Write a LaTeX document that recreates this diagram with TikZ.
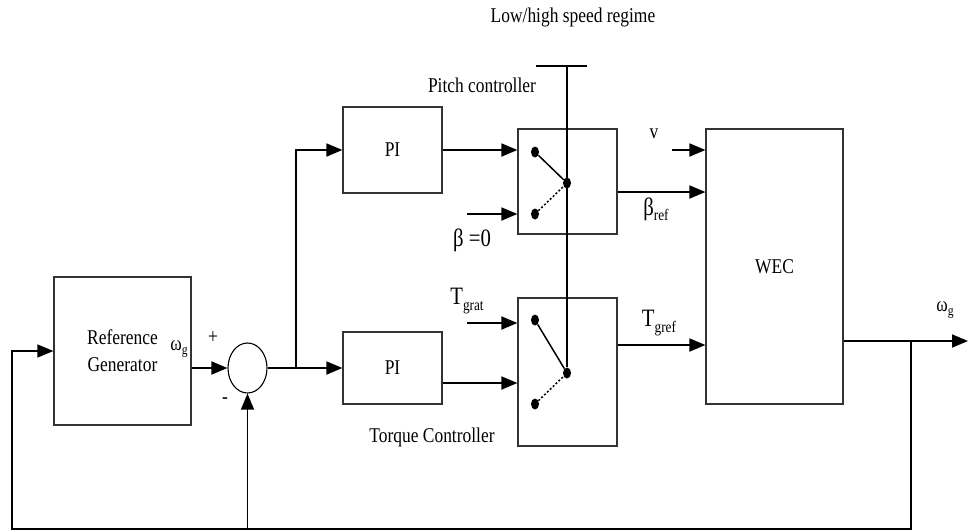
\documentclass[tikz,border=0pt]{standalone}
\usepackage{fontspec}
\setmainfont{Liberation Serif}[FakeStretch=0.83]
\usetikzlibrary{positioning,arrows.meta,shapes.geometric}
\newcommand{\subtxt}[2][14]{\raisebox{-0.45ex}{\fontsize{#1}{#1}\selectfont #2}}

\begin{document}
\begin{tikzpicture}[x=1pt,y=-1pt,font=\fontsize{21}{27}\selectfont,
  >={Triangle[length=16pt,width=13pt]},
  blk/.style={draw=black!80,line width=1.2pt,inner sep=0pt,align=center},
  sumj/.style={ellipse,draw,line width=1.1pt,minimum width=39pt,
               minimum height=50pt,inner sep=0pt},
  contact/.style={ellipse,fill,inner sep=0pt,minimum width=8pt,minimum height=11pt},
  wire/.style={line width=1.8pt},
  fback/.style={line width=1.3pt},
  lever/.style={line width=1.5pt},
  big/.style={font=\fontsize{25}{27}\selectfont}]
 \useasboundingbox (0,0) rectangle (968,531);
 % blocks
 \node[blk,minimum width=137pt,minimum height=148pt] (ref) at (122.5,351) {Reference\\Generator};
 \node[sumj] (sum) at (247.5,368) {};
 \node[blk,minimum width=99pt,minimum height=86pt] (pi1) at (392.5,150) {PI};
 \node[blk,minimum width=99pt,minimum height=72pt] (pi2) at (392.5,368) {PI};
 \node[blk,minimum width=99pt,minimum height=105pt] (sw1) at (567.5,181.5) {};
 \node[blk,minimum width=99pt,minimum height=148pt] (sw2) at (567.5,372) {};
 \node[blk,minimum width=137pt,minimum height=275pt] (wec) at (774.5,266.5) {WEC};
 % switch contacts
 \node[contact] (s1a) at (535,152) {};
 \node[contact] (s1p) at (567,183) {};
 \node[contact] (s1b) at (535,214) {};
 \node[contact] (s2a) at (535,320) {};
 \node[contact] (s2p) at (567,373) {};
 \node[contact] (s2b) at (535,404) {};
 \draw[lever] (s1a) -- (s1p);
 \draw[lever,dash pattern=on 2pt off 2pt] (s1b) -- (s1p);
 \draw[lever] (s2a) -- (s2p);
 \draw[lever,dash pattern=on 2pt off 2pt] (s2b) -- (s2p);
 % regime line
 \coordinate (rt) at (567,66);
 \draw[wire] (rt) -- (s2p);
 \draw[wire] ([xshift=-31pt]rt) -- ([xshift=20pt]rt);
 % labels
 \node (lrg) at (573,17) {Low/high speed regime};
 \node (lpc) at (482,85) {Pitch controller};
 \node (ltc) at (432,437) {Torque Controller};
 \node (lwr) at (179,349) {ω\subtxt{g}};
 \node (lpl) at (213,338) {+};
 \node (lmi) at (225,401) {-};
 \node[big] (lb0) at (472,240) {β =0};
 \node (lv) at (654,134) {v};
 \node[big] (lbr) at (656,209) {β\subtxt[16]{ref}};
 \node[big] (ltg) at (467,301) {T\subtxt[16]{grat}};
 \node[big] (ltr) at (659,323) {T\subtxt[16]{gref}};
 \node (lwo) at (945,310) {ω\subtxt{g}};
 % signals
 \coordinate (br) at (296,368);
 \draw[wire,->] (ref.east |- sum.west) -- (sum.west);
 \draw[wire] (sum.east) -- (br);
 \draw[wire,->] (br) |- (pi1.west);
 \draw[wire,->] (br) -- (pi2.west);
 \draw[wire,->] (pi1.east) -- (pi1.east -| sw1.west);
 \coordinate (b0) at (467,214);
 \draw[wire,->] (b0) -- (b0 -| sw1.west);
 \coordinate (tg) at (467,323);
 \draw[wire,->] (tg) -- (tg -| sw2.west);
 \draw[wire,->] ([yshift=-15pt]pi2.east) coordinate (p2o) -- (p2o -| sw2.west);
 \coordinate (vin) at (672,150);
 \draw[wire,->] (vin) -- (vin -| wec.west);
 \draw[wire,->] ([yshift=-10.5pt]sw1.east) coordinate (bo) -- (bo -| wec.west);
 \draw[wire,->] ([yshift=27pt]sw2.east) coordinate (to) -- (to -| wec.west);
 \coordinate (out) at (968,341);
 \draw[wire,->] ([yshift=-74.5pt]wec.east) coordinate (wo) -- (wo -| out);
 % feedback
 \coordinate (fb) at (911,341);
 \coordinate (bl) at (12,529);
 \draw[fback,->] (fb) |- (bl) |- (ref.west);
 \draw[fback,->] (sum.south |- bl) -- (sum.south);
\end{tikzpicture}
\end{document}
